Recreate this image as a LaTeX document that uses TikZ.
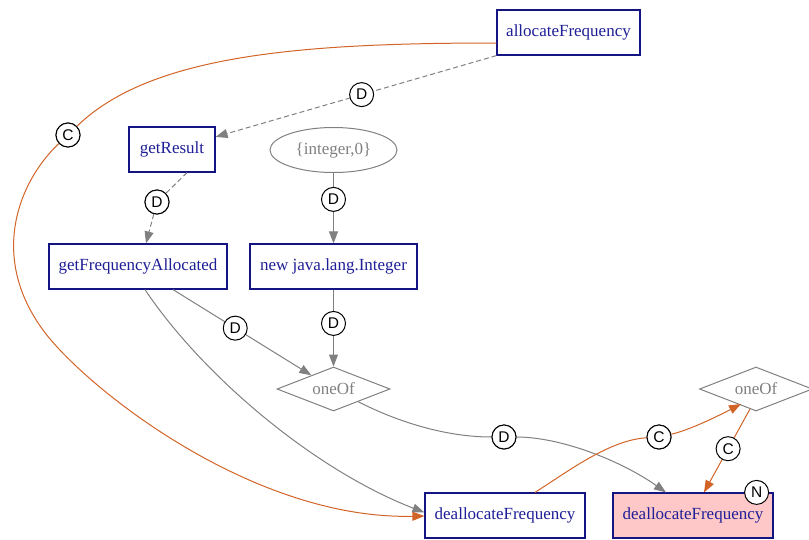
\documentclass[tikz,border=0pt]{standalone}
\usepackage{fontspec}
\setmainfont{Liberation Serif}
\newfontfamily\labfont{Liberation Sans}
\usetikzlibrary{shapes.geometric,arrows.meta}
\definecolor{boxc}{RGB}{20,20,130}
\definecolor{txtc}{RGB}{30,30,150}
\definecolor{grayc}{RGB}{128,128,128}
\definecolor{orangec}{RGB}{210,100,40}
\definecolor{pinkc}{RGB}{255,200,200}
\begin{document}
\begin{tikzpicture}[x=1pt,y=-1pt,
  box/.style={draw=boxc, line width=1.2pt, text=txtc, minimum height=45pt, inner sep=0pt, font=\fontsize{17}{20}\selectfont},
  gnode/.style={draw=grayc, line width=1pt, text=grayc, inner sep=0pt, font=\fontsize{17}{20}\selectfont},
  lab/.style={circle, solid, draw=black, fill=white, line width=1pt, minimum size=24pt, inner sep=0pt, font=\labfont\fontsize{15.5}{18}\selectfont},
  dep/.style={draw=grayc, line width=1pt, -{Triangle[length=12pt,width=9pt]}},
  ctl/.style={draw=orangec, line width=1pt, -{Triangle[length=12pt,width=9pt]}},
  dsh/.style={dash pattern=on 5pt off 3pt}
]
\useasboundingbox (0,0) rectangle (809,539);

% nodes
\node[box, minimum width=143pt] (alloc) at (568.5,32.5) {allocateFrequency};
\node[box, minimum width=86pt] (gr) at (172,149.5) {getResult};
\node[gnode, ellipse, minimum width=127pt, minimum height=45pt] (int) at (333.5,150) {\{integer,0\}};
\node[box, minimum width=178pt] (gfa) at (138,266.5) {getFrequencyAllocated};
\node[box, minimum width=167pt] (ni) at (333.5,266.5) {new java.lang.Integer};
\node[gnode, diamond, aspect=2.57, minimum width=113pt, minimum height=44pt] (o1) at (333.5,389) {oneOf};
\node[gnode, diamond, aspect=2.57, minimum width=113pt, minimum height=44pt] (o2) at (756,389) {oneOf};
\node[box, minimum width=160pt] (d1) at (505,515.5) {deallocateFrequency};
\node[box, minimum width=160pt, fill=pinkc] (d2) at (693,515.5) {deallocateFrequency};

% label anchor nodes for curved edges
\node[lab] (l2) at (68,135) {C};
\node[lab] (l3) at (157,202) {D};
\node[lab] (l8) at (504,437) {D};
\node[lab] (l9) at (659,437) {C};

% edges
\draw[dep,dsh] (alloc.south west) -- node[lab,pos=0.48] (l1) {D} (gr);
\draw[dep,dsh] ([xshift=15pt]gr.south) -- (l3) -- ([xshift=8pt]gfa.north);
\draw[dep] (int) -- node[lab,pos=0.375] (l4) {D} (ni);
\draw[dep] (ni) -- node[lab,pos=0.44] (l6) {D} (o1);
\draw[dep] ([xshift=35pt]gfa.south) -- node[lab,pos=0.45] (l5) {D} (o1);
\draw[dep] ([xshift=7pt]gfa.south) .. controls (200,372) and (310,468) .. ([yshift=3pt]d1.west);
\draw[dep] (o1) .. controls (390,418) and (440,437) .. (l8)
  .. controls (560,437) and (620,460) .. ([xshift=-27pt]d2.north);
\draw[ctl] ([yshift=-10.5pt]alloc.west) .. controls (300,43) and (150,55) .. (l2)
  .. controls (20,180) and (-12,255) .. (43,330)
  .. controls (83,385) and (250,520) .. ([yshift=-0.5pt]d1.west);
\draw[ctl] ([xshift=30pt]d1.north) .. controls (570,470) and (610,440) .. (l9)
  .. controls (690,430) and (720,415) .. ([xshift=-15pt,yshift=-15pt]o2.center);
\draw[ctl] ([xshift=-6pt,yshift=-20pt]o2.center) -- node[lab,pos=0.476] (l10) {C} ([xshift=11pt]d2.north);

% redraw labels on top
\node[lab] at (l2) {C};
\node[lab] at (l3) {D};
\node[lab] at (l8) {D};
\node[lab] at (l9) {C};
\node[lab] (nlab) at ([xshift=-17pt]d2.north east) {N};
\end{tikzpicture}
\end{document}
